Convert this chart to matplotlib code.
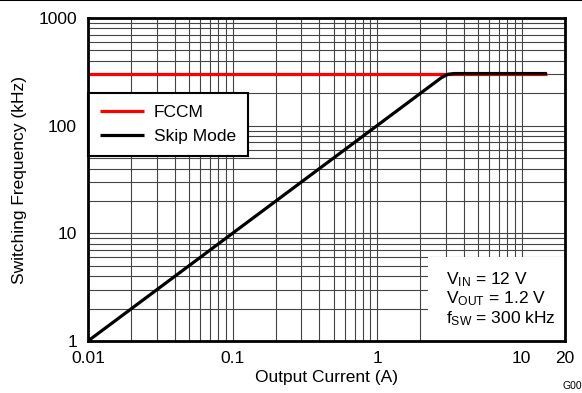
import matplotlib
matplotlib.use("Agg")
import matplotlib.pyplot as plt
from matplotlib.patches import Rectangle
from matplotlib.ticker import FixedLocator, FixedFormatter, LogLocator, NullFormatter

plt.rcParams["font.family"] = ["Liberation Sans", "DejaVu Sans"]
plt.rcParams["mathtext.fontset"] = "custom"
plt.rcParams["mathtext.rm"] = "Liberation Sans"
plt.rcParams["mathtext.it"] = "Liberation Sans:italic"
plt.rcParams["font.size"] = 12.5

# data
fccm_current = [0.01, 3.3, 15]
fccm_freq = [305, 305, 305]

skip_current = [0.01, 0.1, 1, 2.8, 3.1, 3.4, 15]
skip_freq = [1, 10, 100, 280, 300, 305, 305]

x_ticks = [0.01, 0.1, 1, 10, 20]
x_labels = ["0.01", "0.1", "1", "10", "20"]
y_ticks = [1, 10, 100, 1000]
y_labels = ["1", "10", "100", "1000"]

fig = plt.figure(figsize=(5.82, 3.93), dpi=100)
ax = fig.add_axes([88 / 582, 1 - 341 / 393, 477 / 582, 323 / 393])
ax.set_xscale("log")
ax.set_yscale("log")
ax.set_xlim(0.01, 20)
ax.set_ylim(1, 1000)

ax.xaxis.set_major_locator(FixedLocator(x_ticks))
ax.xaxis.set_major_formatter(FixedFormatter(x_labels))
ax.xaxis.set_minor_locator(LogLocator(base=10, subs=range(2, 10), numticks=20))
ax.xaxis.set_minor_formatter(NullFormatter())
ax.yaxis.set_major_locator(FixedLocator(y_ticks))
ax.yaxis.set_major_formatter(FixedFormatter(y_labels))
ax.yaxis.set_minor_locator(LogLocator(base=10, subs=range(2, 10), numticks=20))
ax.yaxis.set_minor_formatter(NullFormatter())
ax.tick_params(which="both", length=0, labelsize=12.5)
ax.tick_params(axis="x", pad=7)
ax.tick_params(axis="y", pad=8)

ax.grid(True, which="both", color="#444444", linewidth=0.8, zorder=0)
ax.set_axisbelow(True)
for s in ax.spines.values():
    s.set_linewidth(2)
    s.set_zorder(6)

ax.plot(fccm_current, fccm_freq, color="#ff0000", linewidth=2.3, label="FCCM", zorder=3,
        solid_capstyle="butt")
ax.plot(skip_current, skip_freq, color="#000000", linewidth=2.3, label="Skip Mode", zorder=4,
        solid_capstyle="butt")

leg = ax.legend(loc="upper left", bbox_to_anchor=(0, 0.768), borderaxespad=0,
                fancybox=False, framealpha=1, edgecolor="black", fontsize=12.5,
                handlelength=2.5, handletextpad=0.6, borderpad=0.7, labelspacing=0.5)
leg.get_frame().set_linewidth(1.5)
leg.set_zorder(5)

box = Rectangle(((428 - 88) / 477, 0), 1, (341 - 257) / 323, transform=ax.transAxes,
                facecolor="white", edgecolor="none", zorder=2)
ax.add_patch(box)
ax.text((446 - 88) / 477, 0.13,
        "V$_{\\mathrm{IN}}$ = 12 V\nV$_{\\mathrm{OUT}}$ = 1.2 V\nf$_{\\mathrm{SW}}$ = 300 kHz",
        transform=ax.transAxes, fontsize=12.5, ha="left", va="center", zorder=5,
        linespacing=1.05)

ax.set_xlabel("Output Current (A)", fontsize=12.5, labelpad=3)
ax.set_ylabel("Switching Frequency (kHz)", fontsize=12.5, labelpad=8)

fig.text(0.967, 0.004, "G00", fontsize=7.5, ha="left", va="bottom")
fig.add_artist(plt.Line2D([0, 1], [0.999, 0.999], color="black", linewidth=1.5,
                          transform=fig.transFigure))

fig.savefig("out.png", dpi=100)
